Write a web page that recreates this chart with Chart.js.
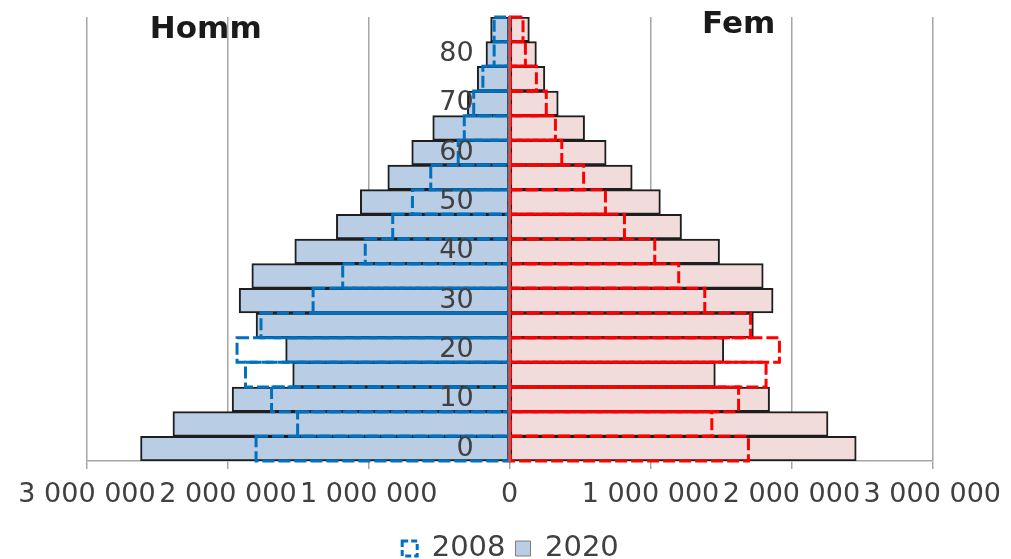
<!DOCTYPE html>
<html>
<head>
<meta charset="utf-8">
<title>Pyramide des âges 2008 / 2020</title>
<script src="https://cdn.jsdelivr.net/npm/chart.js@4/dist/chart.umd.min.js"></script>
<style>
  html, body { margin: 0; padding: 0; background: #ffffff; }
  #wrap { width: 1011px; height: 559px; }
</style>
</head>
<body>
<div id="wrap"><canvas id="pyramid" width="1011" height="559"></canvas></div>
<script>
// Age groups (start of each 5-year band, youngest first)
const ageGroups = ['0', '5', '10', '15', '20', '25', '30', '35', '40', '45', '50', '55', '60', '65', '70', '75', '80', '85'];

// Population per age group
const men2020   = [2620000, 2390000, 1970000, 1540000, 1590000, 1800000, 1920000, 1830000, 1525000, 1230000, 1060000, 865000, 695000, 546000, 300000, 230000, 168000, 135000];
const men2008   = [1800000, 1505000, 1690000, 1875000, 1935000, 1765000, 1395000, 1185000, 1025000, 830000, 690000, 560000, 365000, 322000, 255000, 190000, 110000, 110000];
const women2020 = [2460000, 2260000, 1845000, 1460000, 1520000, 1730000, 1870000, 1800000, 1490000, 1220000, 1070000, 870000, 685000, 532000, 345000, 250000, 190000, 140000];
const women2008 = [1695000, 1435000, 1625000, 1820000, 1915000, 1710000, 1385000, 1200000, 1030000, 815000, 680000, 525000, 370000, 325000, 260000, 190000, 112000, 95000];

const yearLabels = ['2008', '2020'];
const sideTitles = ['Homm', 'Fem'];

const COLORS = {
  menFill: '#b9cde5',
  womenFill: '#f2dcdb',
  edge2020: '#1e1e1e',
  men2008: '#0070c0',
  women2008: '#ff0000',
  zeroLine: '#c0504d',
  grid: '#a6a6a6',
  text: '#404040'
};

const FONT = 'DejaVu Sans';

// Thousands separated by spaces, sign dropped (men are plotted to the left)
function formatPop(v) {
  return String(Math.abs(v)).replace(/\B(?=(\d{3})+(?!\d))/g, ' ');
}

// Bars of the earlier year are shown as dashed outlines on top of the filled bars
const dashedOutline = {
  id: 'dashedOutline',
  afterDatasetDraw(chart, args) {
    const ds = chart.data.datasets[args.index];
    if (!ds.outlineDash) return;
    const ctx = chart.ctx;
    ctx.save();
    ctx.strokeStyle = ds.outlineColor;
    ctx.lineWidth = ds.outlineWidth;
    ctx.setLineDash(ds.outlineDash);
    args.meta.data.forEach(bar => {
      const p = bar.getProps(['x', 'y', 'base', 'height'], true);
      const left = Math.min(p.x, p.base);
      const right = Math.max(p.x, p.base);
      ctx.strokeRect(left, p.y - p.height / 2, right - left, p.height);
    });
    ctx.restore();
  }
};

// "Homm" / "Fem" headings above each half of the pyramid
const sideHeadings = {
  id: 'sideHeadings',
  afterDraw(chart, args, opts) {
    const ctx = chart.ctx;
    const xs = chart.scales.x;
    ctx.save();
    ctx.font = 'bold ' + opts.size + 'px ' + FONT;
    ctx.fillStyle = opts.color;
    ctx.textAlign = 'center';
    ctx.textBaseline = 'alphabetic';
    opts.items.forEach(item => {
      ctx.fillText(item.text, xs.getPixelForValue(item.at), chart.chartArea.top + item.dy);
    });
    ctx.restore();
  }
};

const neg = arr => arr.map(v => -v);
// axes placed inside the plot must not push the plot area down
const noEdgePadding = scale => { scale.paddingTop = 0; scale.paddingBottom = 0; };

new Chart(document.getElementById('pyramid'), {
  type: 'bar',
  data: {
    labels: ageGroups,
    datasets: [
      {
        label: 'Femmes ' + yearLabels[0],
        data: women2008,
        backgroundColor: 'rgba(0,0,0,0)',
        borderWidth: 0,
        outlineDash: [12, 4],
        outlineColor: COLORS.women2008,
        outlineWidth: 3
      },
      {
        label: 'Hommes ' + yearLabels[0],
        data: neg(men2008),
        backgroundColor: 'rgba(0,0,0,0)',
        borderWidth: 0,
        outlineDash: [12, 4],
        outlineColor: COLORS.men2008,
        outlineWidth: 3
      },
      {
        label: 'Hommes ' + yearLabels[1],
        data: neg(men2020),
        backgroundColor: COLORS.menFill,
        borderColor: COLORS.edge2020,
        borderWidth: 2,
        borderSkipped: false
      },
      {
        label: 'Femmes ' + yearLabels[1],
        data: women2020,
        backgroundColor: COLORS.womenFill,
        borderColor: COLORS.edge2020,
        borderWidth: 2,
        borderSkipped: false
      }
    ]
  },
  options: {
    indexAxis: 'y',
    responsive: false,
    animation: false,
    devicePixelRatio: 1,
    grouped: false,
    barPercentage: 1,
    categoryPercentage: 1,
    layout: { padding: { left: 87, right: 77, top: 17, bottom: -14 } },
    scales: {
      x: {
        type: 'linear',
        min: -3000000,
        max: 3000000,
        ticks: {
          stepSize: 1000000,
          padding: 10,
          color: COLORS.text,
          font: { family: FONT, size: 27 },
          maxRotation: 0,
          autoSkip: false,
          callback: v => formatPop(v)
        },
        grid: { color: COLORS.grid, lineWidth: 1.5, tickLength: 8, drawTicks: true },
        border: { display: true, color: COLORS.grid, width: 1.5 },
        afterFit: scale => { scale.height = 63; }
      },
      // age labels, set just left of the zero line and written over the bars
      y: {
        type: 'category',
        reverse: true,
        position: { x: -255000 },
        grid: { display: false, drawTicks: false },
        border: { display: false },
        ticks: {
          z: 1,
          autoSkip: false,
          padding: 0,
          color: COLORS.text,
          font: { family: FONT, size: 27 },
          callback: function (value, index) {
            return index % 2 === 0 ? ageGroups[index] : '';
          }
        },
        afterFit: noEdgePadding
      },
      // zero line between men and women
      yZero: {
        type: 'category',
        axis: 'y',
        reverse: true,
        position: { x: 0 },
        grid: { display: false, drawTicks: false },
        ticks: { display: false },
        border: { display: true, color: COLORS.zeroLine, width: 3, z: 1 },
        afterFit: noEdgePadding
      }
    },
    plugins: {
      legend: {
        position: 'bottom',
        labels: {
          boxWidth: 15,
          boxHeight: 15,
          padding: 10,
          color: COLORS.text,
          font: { family: FONT, size: 29 },
          generateLabels: () => [
            { text: yearLabels[0], fillStyle: 'rgba(0,0,0,0)', strokeStyle: COLORS.men2008, lineWidth: 3, lineDash: [6, 3], fontColor: COLORS.text, hidden: false, datasetIndex: 1 },
            { text: yearLabels[1], fillStyle: COLORS.menFill, strokeStyle: '#7f7f7f', lineWidth: 1, fontColor: COLORS.text, hidden: false, datasetIndex: 2 }
          ]
        },
        onClick: () => {}
      },
      tooltip: { enabled: false },
      sideHeadings: {
        size: 31,
        color: '#1a1a1a',
        items: [
          { text: sideTitles[0], at: -2157000, dy: 21 },
          { text: sideTitles[1], at: 1626000, dy: 16 }
        ]
      }
    }
  },
  plugins: [dashedOutline, sideHeadings]
});
</script>
</body>
</html>
